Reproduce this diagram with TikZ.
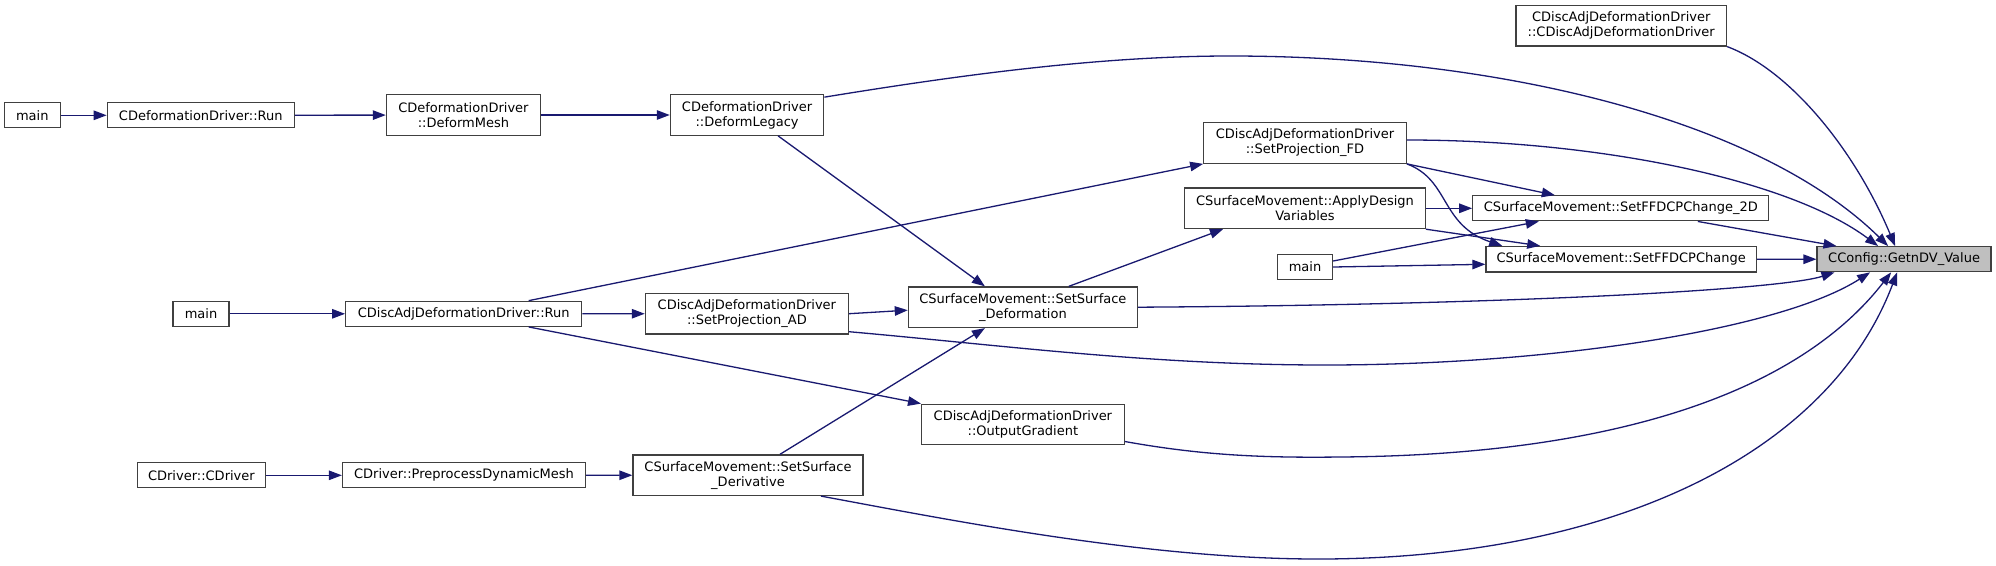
\documentclass[tikz,border=0pt]{standalone}
\usepackage{fontspec}
\setmainfont{DejaVu Sans}
\usepackage{tikz}
\usetikzlibrary{arrows.meta, calc}
\definecolor{EdgeBlue}{HTML}{191970}
\definecolor{BoxLine}{HTML}{404040}
\definecolor{FocusGray}{HTML}{BFBFBF}

\begin{document}
\begin{tikzpicture}[
    x=1pt, y=-1pt,
    fn/.style={rectangle, draw=BoxLine, line width=1.3pt, fill=white, inner sep=2pt,
               align=center, minimum height=25pt, font=\fontsize{13}{15}\selectfont},
    fn2/.style={fn, minimum height=40.5pt},
    focus/.style={fn, fill=FocusGray},
    call/.style={draw=EdgeBlue, line width=1.3pt, -{Triangle[length=13pt, width=9.5pt]}, EdgeBlue}
]
  \path[use as bounding box, fill=white] (0,0) rectangle (1996,565);

  % Callers, left column
  \node[fn, minimum width=56pt] (mainA) at (32.3,115.3) {main};
  \node[fn, minimum width=56pt] (mainB) at (201,313.8) {main};
  \node[fn, minimum width=128.5pt] (cdriver) at (201.4,475.3) {CDriver::CDriver};
  \node[fn, minimum width=187pt] (defrun) at (200.8,115.3) {CDeformationDriver::Run};
  \node[fn, minimum width=236pt] (adjrun) at (463.7,313.8) {CDiscAdjDeformationDriver::Run};
  \node[fn, minimum width=243pt] (preproc) at (464,475.3) {CDriver::PreprocessDynamicMesh};
  \node[fn2, minimum width=154pt] (defmesh) at (463.4,115) {CDeformationDriver\\::DeformMesh};

  % Middle column
  \node[fn2, minimum width=153.4pt] (legacy) at (747.1,115) {CDeformationDriver\\::DeformLegacy};
  \node[fn2, minimum width=203pt] (projad) at (746.9,313.7) {CDiscAdjDeformationDriver\\::SetProjection\_AD};
  \node[fn2, minimum width=230pt] (deriv) at (748,475.2) {CSurfaceMovement::SetSurface\\\_Derivative};
  \node[fn2, minimum width=229pt] (deform) at (1022.9,307.2) {CSurfaceMovement::SetSurface\\\_Deformation};
  \node[fn2, minimum width=202.5pt] (outgrad) at (1022.9,424.5) {CDiscAdjDeformationDriver\\::OutputGradient};
  \node[fn2, minimum width=202.5pt] (projfd) at (1305,143) {CDiscAdjDeformationDriver\\::SetProjection\_FD};
  \node[fn2, minimum width=240.5pt] (applydv) at (1305,208.3) {CSurfaceMovement::ApplyDesign\\Variables};
  \node[fn, minimum width=55pt] (mainC) at (1305,267) {main};

  % Direct callers and the called function
  \node[fn2, minimum width=210.5pt] (ctor) at (1621.2,25.7) {CDiscAdjDeformationDriver\\::CDiscAdjDeformationDriver};
  \node[fn, minimum width=296pt] (ffdtwo) at (1620.8,208.3) {CSurfaceMovement::SetFFDCPChange\_2D};
  \node[fn, minimum width=270.4pt, minimum height=25.6pt] (ffd) at (1621.2,259.3) {CSurfaceMovement::SetFFDCPChange};
  \node[focus, minimum width=174pt] (getdv) at (1904.1,259.2) {CConfig::GetnDV\_Value};

  % Straight calls
  \draw[call] (mainA) -- (defrun);
  \draw[call] (defrun) -- (defmesh);
  \draw[call] (defmesh) -- (legacy);
  \draw[call] (mainB) -- (adjrun);
  \draw[call] (adjrun) -- (projad);
  \draw[call] (cdriver) -- (preproc);
  \draw[call] (preproc) -- (deriv);
  \draw[call] (projad.east) -- ([yshift=-3pt]deform.west);
  \draw[call] ([xshift=65pt]adjrun.north) -- (projfd.south west);
  \draw[call] ([xshift=65pt]adjrun.south) -- (outgrad.north west);
  \draw[call] ([xshift=31pt]legacy.south) -- ([xshift=-38pt]deform.north);
  \draw[call] ([xshift=32pt]deriv.north) -- ([xshift=-38pt]deform.south);
  \draw[call] ([xshift=46pt]deform.north) -- ([xshift=-82pt]applydv.south);
  \draw[call] (applydv.east) -- (ffdtwo.west);
  \draw[call] (applydv.south east) -- ([xshift=-81pt]ffd.north);
  \draw[call] (projfd.south east) -- ([xshift=-66pt]ffdtwo.north);
  \draw[call] (projfd.south east) .. controls (1450,180) and (1440,225) .. ([xshift=-119pt]ffd.north);
  \draw[call] ([yshift=6pt]mainC.east) -- ([xshift=-82pt]ffdtwo.south);
  \draw[call] (mainC.east) -- ([yshift=-5pt]ffd.west);
  \draw[call] ([xshift=77pt]ffdtwo.south) -- ([xshift=20pt]getdv.north west);
  \draw[call] (ffd) -- (getdv);

  % Curved calls into GetnDV_Value
  \draw[call] (ctor.south east) .. controls (1790,70) and (1855,150) .. ([xshift=-9pt]getdv.north);
  \draw[call] (legacy.13) .. controls (960,75) and (1100,56) .. (1230,56)
    .. controls (1500,56) and (1760,120) .. ([xshift=-16pt]getdv.north);
  \draw[call] ([yshift=3pt]projfd.east) .. controls (1600,140) and (1790,180) .. ([xshift=-26pt]getdv.north);
  \draw[call] (deform.east) .. controls (1500,305) and (1780,290) .. ([xshift=18pt]getdv.south west);
  \draw[call] (projad.-10) .. controls (1000,345) and (1150,365) .. (1325,365)
    .. controls (1550,365) and (1780,330) .. ([xshift=-34pt]getdv.south);
  \draw[call] ([yshift=-17pt]outgrad.east) .. controls (1200,455) and (1260,458) .. (1340,457)
    .. controls (1620,455) and (1800,390) .. ([xshift=-13pt]getdv.south);
  \draw[call] ([xshift=73pt]deriv.south) .. controls (950,520) and (1150,560) .. (1325,559)
    .. controls (1620,557) and (1830,450) .. ([xshift=-7pt]getdv.south);
\end{tikzpicture}
\end{document}
